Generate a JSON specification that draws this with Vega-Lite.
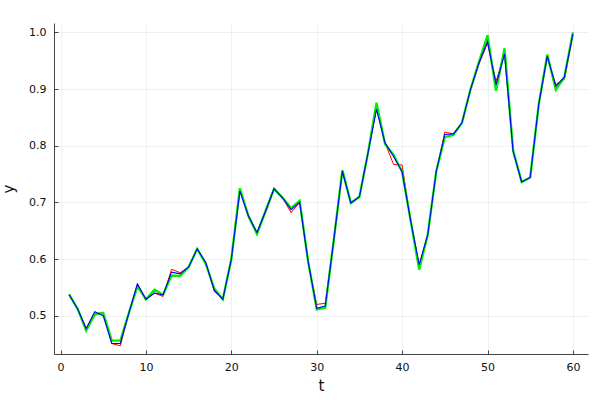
{
  "$schema": "https://vega.github.io/schema/vega-lite/v6.json",
  "width": 534,
  "height": 331,
  "autosize": {"type": "none"},
  "padding": {"left": 54, "top": 23, "right": 12, "bottom": 46},
  "background": "white",
  "config": {
    "view": {"stroke": null},
    "font": "DejaVu Sans",
    "axis": {
      "domainColor": "#444444",
      "domainWidth": 1,
      "tickColor": "#444444",
      "tickSize": -4,
      "gridColor": "#000000",
      "gridOpacity": 0.08,
      "gridWidth": 0.8,
      "labelFont": "DejaVu Sans",
      "labelFontSize": 11,
      "labelColor": "#111111",
      "titleFont": "DejaVu Sans",
      "titleFontSize": 15,
      "titleFontWeight": "normal",
      "titleColor": "#111111"
    }
  },
  "data": {
    "values": [
      {"t": 1, "r": 0.537, "g": 0.538, "b": 0.537},
      {"t": 2, "r": 0.512, "g": 0.512, "b": 0.512},
      {"t": 3, "r": 0.478, "g": 0.474, "b": 0.477},
      {"t": 4, "r": 0.504, "g": 0.502, "b": 0.507},
      {"t": 5, "r": 0.505, "g": 0.505, "b": 0.500},
      {"t": 6, "r": 0.451, "g": 0.456, "b": 0.451},
      {"t": 7, "r": 0.447, "g": 0.456, "b": 0.451},
      {"t": 8, "r": 0.505, "g": 0.505, "b": 0.505},
      {"t": 9, "r": 0.556, "g": 0.552, "b": 0.556},
      {"t": 10, "r": 0.529, "g": 0.529, "b": 0.529},
      {"t": 11, "r": 0.540, "g": 0.546, "b": 0.540},
      {"t": 12, "r": 0.534, "g": 0.537, "b": 0.537},
      {"t": 13, "r": 0.582, "g": 0.571, "b": 0.577},
      {"t": 14, "r": 0.576, "g": 0.570, "b": 0.574},
      {"t": 15, "r": 0.586, "g": 0.586, "b": 0.586},
      {"t": 16, "r": 0.618, "g": 0.618, "b": 0.618},
      {"t": 17, "r": 0.594, "g": 0.592, "b": 0.594},
      {"t": 18, "r": 0.543, "g": 0.548, "b": 0.545},
      {"t": 19, "r": 0.529, "g": 0.529, "b": 0.529},
      {"t": 20, "r": 0.600, "g": 0.600, "b": 0.600},
      {"t": 21, "r": 0.720, "g": 0.725, "b": 0.720},
      {"t": 22, "r": 0.678, "g": 0.676, "b": 0.676},
      {"t": 23, "r": 0.647, "g": 0.644, "b": 0.647},
      {"t": 24, "r": 0.687, "g": 0.684, "b": 0.684},
      {"t": 25, "r": 0.726, "g": 0.724, "b": 0.724},
      {"t": 26, "r": 0.708, "g": 0.708, "b": 0.708},
      {"t": 27, "r": 0.682, "g": 0.690, "b": 0.687},
      {"t": 28, "r": 0.700, "g": 0.703, "b": 0.700},
      {"t": 29, "r": 0.595, "g": 0.595, "b": 0.595},
      {"t": 30, "r": 0.520, "g": 0.511, "b": 0.513},
      {"t": 31, "r": 0.522, "g": 0.514, "b": 0.517},
      {"t": 32, "r": 0.634, "g": 0.634, "b": 0.634},
      {"t": 33, "r": 0.755, "g": 0.757, "b": 0.755},
      {"t": 34, "r": 0.699, "g": 0.699, "b": 0.699},
      {"t": 35, "r": 0.711, "g": 0.710, "b": 0.710},
      {"t": 36, "r": 0.787, "g": 0.787, "b": 0.787},
      {"t": 37, "r": 0.866, "g": 0.876, "b": 0.864},
      {"t": 38, "r": 0.805, "g": 0.803, "b": 0.805},
      {"t": 39, "r": 0.767, "g": 0.784, "b": 0.781},
      {"t": 40, "r": 0.766, "g": 0.754, "b": 0.754},
      {"t": 41, "r": 0.668, "g": 0.668, "b": 0.668},
      {"t": 42, "r": 0.589, "g": 0.581, "b": 0.590},
      {"t": 43, "r": 0.643, "g": 0.643, "b": 0.643},
      {"t": 44, "r": 0.755, "g": 0.755, "b": 0.755},
      {"t": 45, "r": 0.824, "g": 0.815, "b": 0.820},
      {"t": 46, "r": 0.821, "g": 0.819, "b": 0.821},
      {"t": 47, "r": 0.840, "g": 0.840, "b": 0.840},
      {"t": 48, "r": 0.897, "g": 0.899, "b": 0.899},
      {"t": 49, "r": 0.944, "g": 0.948, "b": 0.946},
      {"t": 50, "r": 0.981, "g": 0.995, "b": 0.984},
      {"t": 51, "r": 0.914, "g": 0.897, "b": 0.908},
      {"t": 52, "r": 0.962, "g": 0.972, "b": 0.962},
      {"t": 53, "r": 0.790, "g": 0.792, "b": 0.790},
      {"t": 54, "r": 0.735, "g": 0.736, "b": 0.736},
      {"t": 55, "r": 0.744, "g": 0.744, "b": 0.744},
      {"t": 56, "r": 0.873, "g": 0.873, "b": 0.873},
      {"t": 57, "r": 0.955, "g": 0.961, "b": 0.958},
      {"t": 58, "r": 0.908, "g": 0.899, "b": 0.905},
      {"t": 59, "r": 0.917, "g": 0.921, "b": 0.921},
      {"t": 60, "r": 0.995, "g": 1.0, "b": 0.997}
    ]
  },
  "encoding": {
    "x": {
      "field": "t", "type": "quantitative",
      "scale": {"domain": [-0.77, 61.77], "nice": false, "zero": false},
      "axis": {"title": "t", "values": [0, 10, 20, 30, 40, 50, 60], "labelPadding": 11, "titlePadding": 6}
    }
  },
  "layer": [
    {
      "mark": {"type": "line", "color": "#ff0000", "strokeWidth": 1, "clip": true},
      "encoding": {
        "y": {
          "field": "r", "type": "quantitative",
          "scale": {"domain": [0.4325, 1.0166], "nice": false, "zero": false},
          "axis": {"title": "y", "values": [0.5, 0.6, 0.7, 0.8, 0.9, 1.0], "format": ".1f", "labelPadding": 12, "titlePadding": 12}
        }
      }
    },
    {
      "mark": {"type": "line", "color": "#00ee00", "strokeWidth": 2.3, "clip": true},
      "encoding": {"y": {"field": "g", "type": "quantitative"}}
    },
    {
      "mark": {"type": "line", "color": "#0000ff", "strokeWidth": 1.1, "clip": true},
      "encoding": {"y": {"field": "b", "type": "quantitative"}}
    }
  ]
}
